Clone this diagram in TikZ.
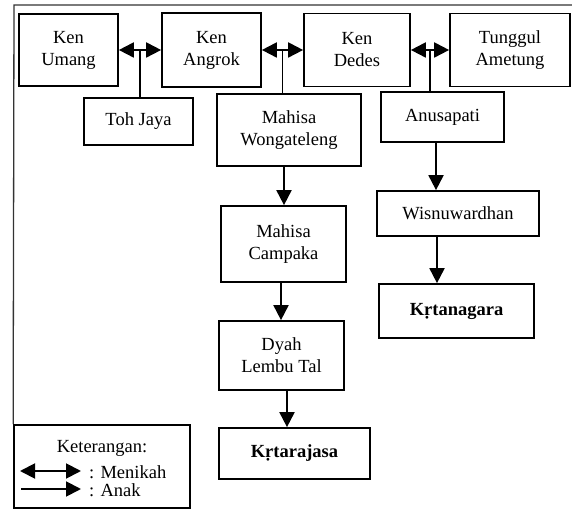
\documentclass[tikz,border=0pt]{standalone}
\usepackage{fontspec}
\setmainfont{Liberation Serif}
\usetikzlibrary{positioning, arrows.meta, calc}

\tikzset{
    kotak/.style={draw, line width=1.7pt, align=center, inner sep=0pt,
        font=\fontsize{18.5}{22}\selectfont},
    nikah/.style={line width=1.9pt, {Triangle[length=15pt,width=15pt]}-{Triangle[length=15pt,width=15pt]}},
    anak/.style={line width=1.9pt, -{Triangle[length=15pt,width=15pt]}},
    garis/.style={line width=1.9pt}
}

\begin{document}
\begin{tikzpicture}[x=1pt, y=1pt]
            \useasboundingbox (0,0) rectangle (572,510);

            % Generasi pertama
            \node[kotak, minimum width=99, minimum height=72] (umang) at (68.5,460) {Ken\\Umang};
            \node[kotak, minimum width=99, minimum height=74] (angrok) at (211.5,460) {Ken\\Angrok};
            \node[kotak, minimum width=106, minimum height=73] (dedes) at (357,460) {Ken\\Dedes};
            \node[kotak, minimum width=120, minimum height=73] (tunggul) at (510,460) {Tunggul\\Ametung};

            % Anak-anak
            \node[kotak, minimum width=109, minimum height=47] (tohjaya) at (138.5,388.5) {Toh Jaya};
            \node[kotak, minimum width=144, minimum height=72] (mw) at (289,380) {Mahisa\\Wongateleng};
            \node[kotak, minimum width=123, minimum height=50] (anu) at (442.5,393) {Anusapati};

            % Keturunan
            \node[kotak, minimum width=125, minimum height=76] (campaka) at (283.5,266) {Mahisa\\Campaka};
            \node[kotak, minimum width=125, minimum height=69] (dyah) at (281.5,154.5) {Dyah\\Lembu Tal};
            \node[kotak, minimum width=151, minimum height=51] (krtarajasa) at (294.5,56.5) {\textbf{Kṛtarajasa}};
            \node[kotak, minimum width=162, minimum height=45] (wisnu) at (458,296.5) {Wisnuwardhan};
            \node[kotak, minimum width=155, minimum height=54] (krtanagara) at (456.5,199) {\textbf{Kṛtanagara}};

            % Pernikahan
            \foreach \a/\b/\c/\n in {umang/angrok/tohjaya/n1, angrok/dedes/mw/n2, dedes/tunggul/anu/n3} {
                \draw[nikah] (\a.east) -- (\a.east -| \b.west);
                \coordinate (\n) at ($(\a.east)!0.5!(\a.east -| \b.west)$);
                \draw[garis] (\n) -- (\n |- \c.north);
            }

            % Anak
            \foreach \a/\b/\dx in {mw/campaka/-5, campaka/dyah/-2.5, dyah/krtarajasa/5.5, anu/wisnu/-6.5, wisnu/krtanagara/-21} {
                \draw[anak] ([xshift=\dx]\a.south) -- ([xshift=\dx]\a.south |- \b.north);
            }

            % Keterangan
            \node[kotak, minimum width=176, minimum height=83] (legend) at (102,43.5) {};
            \draw[line width=1.3pt, black!80] (legend.north west) -- (14,505) -- (572,505);
            \node[font=\fontsize{18.5}{22}\selectfont] (ket) at (102,62) {Keterangan:};
            \coordinate (m1) at (20,39);
            \coordinate (m2) at (81,39);
            \coordinate (a1) at (21,21);
            \coordinate (a2) at (81,21);
            \draw[nikah] (m1) -- (m2);
            \draw[anak] (a1) -- (a2);
            \node[anchor=west, inner sep=0pt, font=\fontsize{18.5}{22}\selectfont] (menikah) at (89,38) {: Menikah};
            \node[anchor=west, inner sep=0pt, font=\fontsize{18.5}{22}\selectfont] (anaklbl) at (89,20) {: Anak};
\end{tikzpicture}
\end{document}
